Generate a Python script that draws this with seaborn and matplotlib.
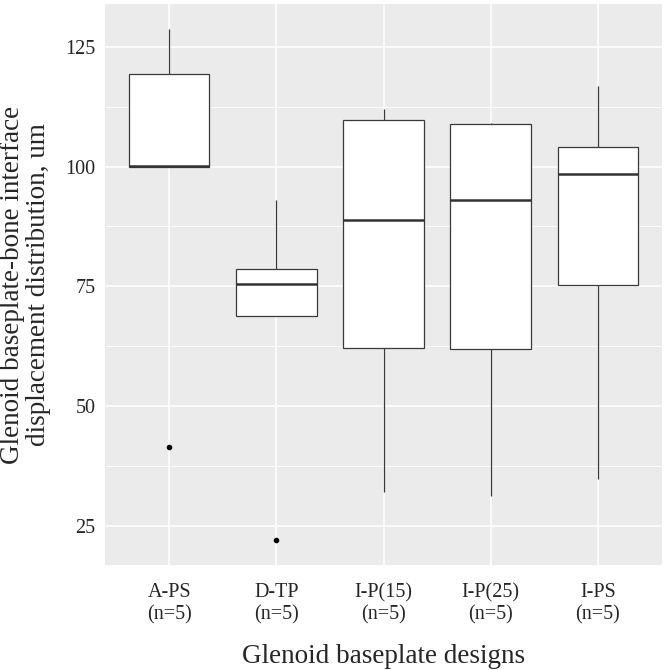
import numpy as np
import pandas as pd
import matplotlib
matplotlib.use("Agg")
import matplotlib.pyplot as plt
import seaborn as sb

# values (5 per design)
designs = ["A-PS", "D-TP", "I-P(15)", "I-P(25)", "I-PS"]
a_ps = [41.5, 100.0, 100.2, 119.2, 128.6]
d_tp = [22.2, 68.8, 75.5, 78.7, 93.1]
i_p15 = [32.2, 62.1, 88.9, 109.8, 112.1]
i_p25 = [31.2, 62.0, 93.0, 108.8, 109.1]
i_ps = [34.9, 75.2, 98.5, 104.0, 116.8]
tick_labels = [d + "\n(n=5)" for d in designs]
y_ticks = [25, 50, 75, 100, 125]

df = pd.DataFrame({
    "design": np.repeat(designs, 5),
    "disp": a_ps + d_tp + i_p15 + i_p25 + i_ps,
})

sb.set_theme(style="darkgrid")
plt.rcParams["font.family"] = ["Liberation Serif", "DejaVu Serif"]

fig = plt.figure(figsize=(6.66, 6.70), dpi=100)
ax = fig.add_axes([105 / 666, 105 / 670, 557 / 666, 561 / 670])
ax.set_facecolor("#EBEBEB")

sb.boxplot(data=df, x="design", y="disp", order=designs, ax=ax,
           width=0.75, color="white", linecolor="#3a3a3a", linewidth=0.9,
           showcaps=False,
           medianprops=dict(color="#333333", linewidth=1.8),
           flierprops=dict(marker="o", markersize=3, markerfacecolor="black",
                           markeredgecolor="black"),
           zorder=3)

ax.set_xlim(-0.6, 4.6)
ax.set_ylim(16.9, 133.9)
ax.set_yticks(y_ticks)
ax.set_yticks([37.5, 62.5, 87.5, 112.5], minor=True)
ax.grid(which="major", color="white", linewidth=1.1, zorder=0)
ax.grid(which="minor", axis="y", color="white", linewidth=0.55, zorder=0)
ax.set_axisbelow(True)
ax.set_xticks(range(len(designs)))
ax.set_xticklabels(tick_labels, fontsize=14.5, linespacing=1.2)
ax.tick_params(axis="y", labelsize=14.5, pad=4)
ax.tick_params(axis="x", pad=10)
ax.tick_params(which="major", length=3, width=0.6, color="#333333")
ax.tick_params(which="minor", length=0)
for s in ax.spines.values():
    s.set_visible(False)

ax.set_xlabel("Glenoid baseplate designs", fontsize=19.5, labelpad=14)
ax.set_ylabel("Glenoid baseplate-bone interface\ndisplacement distribution, um",
              fontsize=19.5, labelpad=10, linespacing=1.05)

fig.savefig("out.png", dpi=100)
